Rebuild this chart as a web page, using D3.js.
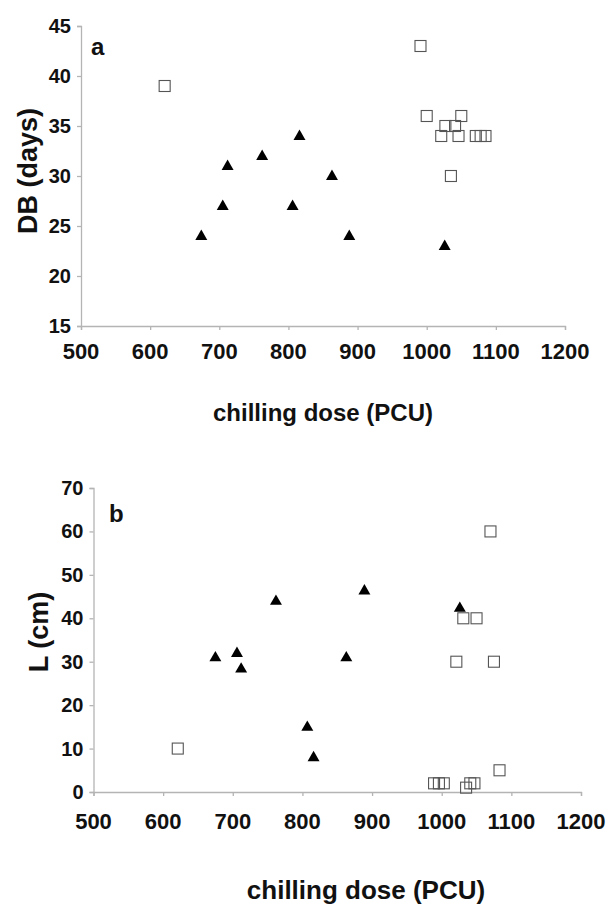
<!DOCTYPE html>
<html>
<head>
<meta charset="utf-8">
<script src="https://cdn.jsdelivr.net/npm/d3@7"></script>
<style>
  body { margin: 0; background: #fff; }
  svg text { font-family: "Liberation Sans", Arial, sans-serif; font-weight: bold; fill: #111; }
</style>
</head>
<body>
<svg id="chart" width="615" height="907"></svg>
<script>
// panel a: DB (days) vs chilling dose
const aTriX = [674, 705, 712, 762, 816, 806, 863, 888, 1026];
const aTriY = [24, 27, 31, 32, 34, 27, 30, 24, 23];
const aSqX = [621, 991, 1000, 1027, 1041, 1050, 1021, 1046, 1035, 1071, 1078, 1085];
const aSqY = [39, 43, 36, 35, 35, 36, 34, 34, 30, 34, 34, 34];

// panel b: L (cm) vs chilling dose
const bTriX = [675, 706, 712, 762, 807, 816, 863, 889, 1026];
const bTriY = [31, 32, 28.4, 44, 15, 8, 31, 46.4, 42.4];
const bSqX = [621, 1070, 1031, 1050, 1021, 1075, 1083, 989, 996, 1003, 1041, 1047, 1035];
const bSqY = [10, 60, 40, 40, 30, 30, 5, 2, 2, 2, 2, 2, 1];

const xTicks = [500, 600, 700, 800, 900, 1000, 1100, 1200];
const aYTicks = [15, 20, 25, 30, 35, 40, 45];
const bYTicks = [0, 10, 20, 30, 40, 50, 60, 70];

const svg = d3.select('#chart');

function drawPanel(opt) {
    const x = d3.scaleLinear().domain([500, 1200]).range([opt.left, opt.right]);
    const y = d3.scaleLinear().domain(opt.yDomain).range([opt.bottom, opt.top]);
    const g = svg.append('g');

    // axes
    const xAxis = d3.axisBottom(x).tickValues(xTicks).tickSize(4).tickFormat('');
    const yAxis = d3.axisLeft(y).tickValues(opt.yTicks).tickSize(4).tickFormat('');
    g.append('g').attr('transform', 'translate(0,' + opt.bottom + ')').call(xAxis);
    g.append('g').attr('transform', 'translate(' + opt.left + ',0)').call(yAxis);
    g.selectAll('.domain, .tick line').attr('stroke', '#b4b4b4').attr('stroke-width', 1.3);

    g.selectAll('.xl')
        .data(xTicks)
        .enter()
        .append('text')
            .attr('x', d => x(d))
            .attr('y', opt.xLabelY)
            .attr('text-anchor', 'middle')
            .style('font-size', '22px')
            .text(d => d);

    g.selectAll('.yl')
        .data(opt.yTicks)
        .enter()
        .append('text')
            .attr('x', opt.left - 10)
            .attr('y', d => y(d) + 7)
            .attr('text-anchor', 'end')
            .style('font-size', '20px')
            .text(d => d);

    // titles
    g.append('text')
        .attr('x', opt.xTitleX)
        .attr('y', opt.xTitleY)
        .attr('text-anchor', 'middle')
        .style('font-size', opt.xTitleSize + 'px')
        .text('chilling dose (PCU)');

    g.append('text')
        .attr('transform', 'translate(' + opt.yTitleX + ',' + opt.yTitleY + ') rotate(-90)')
        .attr('text-anchor', 'middle')
        .style('font-size', '27px')
        .text(opt.yTitle);

    g.append('text')
        .attr('x', opt.letterX)
        .attr('y', opt.letterY)
        .style('font-size', '24px')
        .text(opt.letter);

    // open squares
    const s = 11;
    g.selectAll('.sq')
        .data(d3.zip(opt.sqX, opt.sqY))
        .enter()
        .append('rect')
            .attr('x', d => x(d[0]) - s / 2)
            .attr('y', d => y(d[1]) - s / 2)
            .attr('width', s)
            .attr('height', s)
            .attr('fill', 'none')
            .attr('stroke', '#555')
            .attr('stroke-width', 1.1);

    // filled triangles
    const tri = d3.symbol().type(d3.symbolTriangle).size(62);
    g.selectAll('.tri')
        .data(d3.zip(opt.triX, opt.triY))
        .enter()
        .append('path')
            .attr('d', tri)
            .attr('transform', d => 'translate(' + x(d[0]) + ',' + (y(d[1]) + 0.5) + ')')
            .attr('fill', '#000');
}

drawPanel({
    left: 81, right: 565, top: 26, bottom: 326,
    yDomain: [15, 45], yTicks: aYTicks,
    xLabelY: 359, xTitleX: 323, xTitleY: 421, xTitleSize: 24,
    yTitle: 'DB (days)', yTitleX: 37, yTitleY: 171,
    letter: 'a', letterX: 91, letterY: 55,
    triX: aTriX, triY: aTriY, sqX: aSqX, sqY: aSqY
});

drawPanel({
    left: 93.5, right: 581, top: 488, bottom: 792,
    yDomain: [0, 70], yTicks: bYTicks,
    xLabelY: 829, xTitleX: 366, xTitleY: 899, xTitleSize: 26,
    yTitle: 'L (cm)', yTitleX: 48, yTitleY: 632,
    letter: 'b', letterX: 109, letterY: 522,
    triX: bTriX, triY: bTriY, sqX: bSqX, sqY: bSqY
});
</script>
</body>
</html>
